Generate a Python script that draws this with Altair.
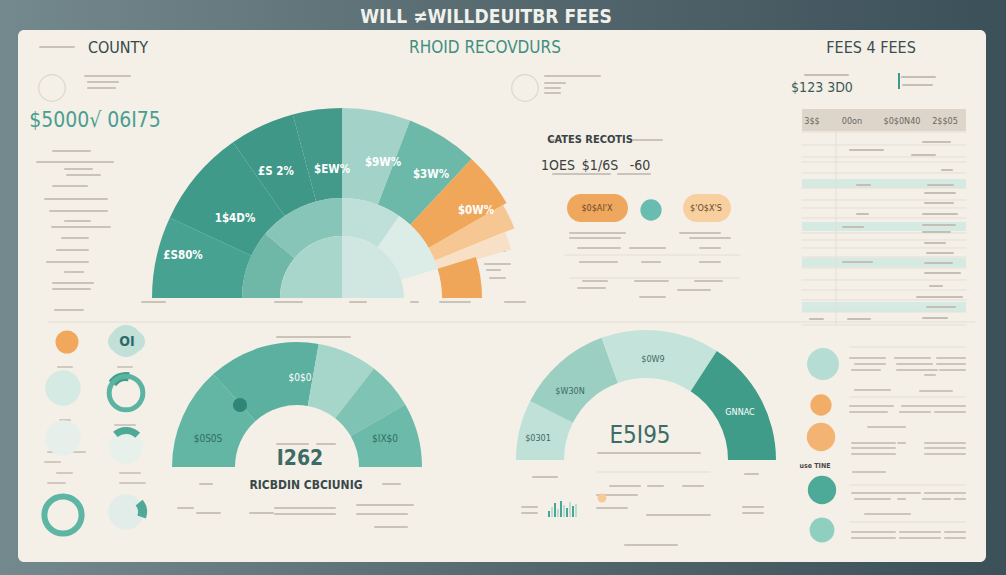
import math
import altair as alt
import pandas as pd

W, H = 1006, 575
FONT = "Liberation Sans Narrow, DejaVu Sans Condensed, Roboto, sans-serif"

# ---------------- data ----------------
# big half donut (angles in degrees from the left end, 0..180)
big_start = [0, 25, 55, 75, 90, 111, 133, 150, 158, 163, 0, 40, 90, 125, 0, 90]
big_end   = [25, 55, 75, 90, 111, 133, 150, 158, 164, 180, 40, 90, 125, 163, 90, 180]
big_inner = [100, 100, 100, 100, 100, 100, 100, 100, 100, 100, 62, 62, 62, 62, 0, 0]
big_outer = [190, 190, 190, 190, 190, 190, 190, 186, 176, 140, 100, 100, 100, 100, 62, 62]
big_color = ["#48a291", "#3f9a89", "#3e9787", "#43998a", "#a3d3c8", "#6db9a9", "#f0a75a",
             "#f6c693", "#f8e0c6", "#efa659", "#6fb8a8", "#86c5b7", "#bfe0d8", "#dcede7",
             "#a9d6cb", "#cfe7e0"]
big_labels = ["£S80%", "1$4D%", "£S 2%", "$EW%", "$9W%", "$3W%", "$0W%"]
big_label_x = [183, 235, 276, 332, 383, 431, 476]
big_label_y = [256, 219, 172, 170, 163, 175, 211]

# bottom-left gauge
bl_start = [0, 48, 100, 128, 150]
bl_end = [48, 100, 128, 150, 180]
bl_color = ["#63b5a4", "#5cb0a0", "#a6d5c9", "#7fc3b4", "#6cbaa9"]
bl_labels = ["$0S0S", "$0$0", "$IX$0"]
bl_label_x = [208, 300, 385]
bl_label_y = [439, 378, 439]

# bottom-right gauge
br_start = [0, 27, 70, 123]
br_end = [27, 70, 123, 180]
br_color = ["#bfe1d8", "#9bcfc2", "#c4e3da", "#3f9c89"]
br_labels = ["$0301", "$W30N", "$0W9", "GNNAC"]
br_label_x = [538, 570, 653, 740]
br_label_y = [438, 391, 359, 412]

# mini bar chart
mini_x = [548, 551, 554, 557, 560, 563, 566, 569, 572, 575]
mini_h = [6, 10, 14, 8, 16, 12, 9, 15, 11, 13]

# headings & big figures
title_text = "WILL ≠WILLDEUITBR FEES"
headings = ["COUNTY", "RHOID RECOVDURS", "FEES 4 FEES"]
heading_x = [118, 485, 871]
heading_c = ["#374848", "#3f8f80", "#3d4d4d"]

# illegible text lines (x1, x2, y)
left_x1 = [53, 37, 65, 67, 53, 45, 50, 65, 52, 62, 57, 47, 65, 53, 53, 55, 85, 88, 88, 40]
left_x2 = [90, 113, 92, 100, 87, 107, 107, 90, 110, 88, 88, 88, 83, 93, 90, 83, 130, 118, 115, 74]
left_y = [151, 162, 169, 175, 186, 199, 211, 221, 227, 238, 250, 262, 272, 283, 289, 310, 76, 82, 88, 47]

mid_x1 = [545, 545, 545, 545, 550, 633, 553, 618, 570, 570, 680, 690, 578, 630, 700,
          580, 642, 700, 583, 635, 695, 578, 640, 678, 142, 275, 350, 411, 440, 505,
          480, 485, 487, 490]
mid_x2 = [600, 565, 560, 560, 560, 662, 610, 650, 625, 620, 720, 730, 620, 665, 720,
          617, 660, 720, 607, 668, 722, 605, 665, 710, 165, 302, 366, 418, 470, 525,
          505, 510, 500, 505]
mid_y = [76, 83, 88, 93, 140, 140, 174, 174, 233, 238, 233, 238, 248, 248, 248,
         262, 262, 262, 281, 281, 281, 288, 297, 290, 302, 302, 302, 302, 302, 302,
         251, 264, 270, 278]

bot_x1 = [277, 200, 383, 277, 317, 178, 197, 250, 275, 275, 357, 357, 375,
          533, 610, 648, 683, 597, 597, 647, 625, 745, 743, 743, 522, 522, 598]
bot_x2 = [350, 212, 400, 308, 335, 193, 220, 273, 335, 335, 413, 407, 407,
          557, 640, 663, 703, 637, 627, 710, 677, 758, 763, 763, 537, 537, 700]
bot_y = [337, 484, 484, 444, 444, 508, 513, 513, 508, 514, 505, 514, 527,
         477, 486, 486, 486, 495, 508, 515, 545, 474, 507, 513, 507, 513, 453]

tab_x1 = [923, 850, 912, 942, 857, 928, 925, 925, 857, 923, 843, 923, 923, 925, 927,
          843, 925, 925, 930, 917, 927, 923, 848, 810, 805, 902, 903]
tab_x2 = [950, 883, 935, 952, 870, 953, 955, 953, 868, 957, 863, 955, 950, 945, 953,
          872, 952, 960, 942, 962, 955, 947, 870, 823, 848, 935, 932]
tab_y = [142, 150, 155, 170, 185, 185, 193, 203, 214, 214, 227, 225, 232, 243, 253,
         262, 263, 273, 286, 297, 307, 318, 319, 319, 75, 77, 85]

rb_x1 = [850, 895, 937, 855, 897, 937, 852, 897, 940, 925, 855, 920, 850, 902, 850, 900,
         935, 868, 852, 898, 925, 852, 925, 852, 925, 853, 852, 925, 855, 898, 923, 955,
         865, 852, 900, 945, 852, 900, 945]
rb_x2 = [885, 930, 965, 885, 932, 965, 880, 937, 965, 935, 890, 952, 893, 965, 887, 930,
         965, 905, 895, 905, 965, 895, 965, 895, 965, 885, 920, 965, 890, 905, 950, 965,
         910, 895, 940, 965, 895, 940, 965]
rb_y = [358, 358, 358, 364, 364, 364, 370, 370, 370, 375, 390, 391, 406, 406, 412, 412,
        412, 427, 443, 443, 443, 448, 448, 454, 454, 472, 493, 493, 499, 499, 499, 499,
        514, 532, 532, 532, 538, 538, 538]

circ_lb_x1 = [58, 118, 60, 115, 48, 45, 57, 48, 120, 120]
circ_lb_x2 = [72, 132, 70, 135, 85, 60, 72, 65, 140, 145]
circ_lb_y = [367, 367, 420, 425, 452, 462, 473, 483, 473, 483]

# faint full-width rules (x1, x2, y)
rule_x1 = [48, 565, 570, 850, 850, 850, 850, 597]
rule_x2 = [975, 740, 740, 965, 965, 965, 965, 710]
rule_y = [322, 255, 278, 347, 397, 485, 522, 472]

table_lines_y = [132, 145, 157, 162, 173, 188, 200, 208, 218, 233, 240, 248, 257, 268,
                 280, 290, 300, 312, 325]
table_band_y1 = [179, 222, 258, 302]
table_band_y2 = [188, 231, 267, 312]
table_head = ["3$$", "00on", "$0$0N40", "2$$05"]
table_head_x = [812, 852, 902, 945]

# filled circles (x, y, r, colour)
dot_x = [67, 126, 63, 63, 126, 126, 823, 821, 821, 822, 822, 651, 240, 602]
dot_y = [342, 341, 388, 438, 512, 447, 364, 405, 437, 490, 530, 210, 405, 498]
dot_r = [13, 18, 20, 20, 20, 19, 18, 12, 16, 16, 14, 12, 8, 5]
dot_c = ["#f2a85c", "#c1e0d8", "#d6eae4", "#e6efea", "#e2ece8", "#e8f0ec", "#b6ddd4",
         "#f2ae66", "#f3b372", "#4daa98", "#8fcfc0", "#68bdb0", "#2f8577", "#f5c998"]
# rings
ring_x = [126, 63, 52, 525]
ring_y = [393, 515, 88, 88]
ring_r = [19, 21, 15, 15]
ring_c = ["#5bb4a2", "#5db6a4", "#dcd6cc", "#dcd6cc"]
ring_w = [5, 6, 1.2, 1.2]

# ---------------- helpers ----------------
XS = alt.Scale(domain=[0, W], nice=False, zero=False)
YS = alt.Scale(domain=[0, H], reverse=True, nice=False, zero=False)
TH = alt.Scale(domain=[0, 180], range=[-math.pi / 2, math.pi / 2], nice=False, zero=False)


def X(f):
    return alt.X(f"{f}:Q", scale=XS, axis=None)


def Y(f):
    return alt.Y(f"{f}:Q", scale=YS, axis=None)


def arcs(cx, cy, a0, a1, r0, r1, col):
    df = pd.DataFrame({"cx": cx, "cy": cy, "a0": a0, "a1": a1, "r0": r0, "r1": r1, "c": col})
    return alt.Chart(df).mark_arc(strokeWidth=0).encode(
        x=X("cx"), y=Y("cy"),
        theta=alt.Theta("a0:Q", scale=TH, stack=False),
        theta2="a1:Q",
        radius=alt.Radius("r1:Q", scale=None),
        radius2="r0:Q",
        color=alt.Color("c:N", scale=None),
    )


def lines(x1, x2, y, color, width=2.2, opacity=1.0):
    df = pd.DataFrame({"x1": x1, "x2": x2, "y": y})
    return alt.Chart(df).mark_rule(color=color, strokeWidth=width, strokeCap="round",
                                   opacity=opacity).encode(
        x=X("x1"), x2=alt.X2("x2:Q"), y=Y("y"))


def texts(t, x, y, size, color, weight="normal", align="center", font=FONT):
    df = pd.DataFrame({"t": t, "x": x, "y": y})
    return alt.Chart(df).mark_text(fontSize=size, color=color, fontWeight=weight,
                                   align=align, baseline="middle", font=font).encode(
        x=X("x"), y=Y("y"), text="t:N")


def rects(x1, x2, y1, y2, color, radius=0, opacity=1.0):
    df = pd.DataFrame({"x1": x1, "x2": x2, "y1": y1, "y2": y2, "c": color})
    return alt.Chart(df).mark_rect(cornerRadius=radius, opacity=opacity).encode(
        x=X("x1"), x2=alt.X2("x2:Q"), y=Y("y1"), y2=alt.Y2("y2:Q"),
        color=alt.Color("c:N", scale=None))


# ---------------- layers ----------------
bg = alt.Chart(pd.DataFrame({"x1": [0], "x2": [W], "y1": [0], "y2": [H]})).mark_rect(
    color=alt.Gradient(gradient="linear",
                       stops=[alt.GradientStop(color="#74898d", offset=0),
                              alt.GradientStop(color="#56696f", offset=0.5),
                              alt.GradientStop(color="#3c505a", offset=1)],
                       x1=0, x2=1, y1=0, y2=0)
).encode(x=X("x1"), x2=alt.X2("x2:Q"), y=Y("y1"), y2=alt.Y2("y2:Q"))

panel = rects([18], [986], [30], [562], ["#f4f0e8"], radius=6)

table_band = rects([802] * 5, [966] * 5, [109] + table_band_y1, [131] + table_band_y2,
                   ["#ddd5ca", "#d5eae3", "#d5eae3", "#d5eae3", "#d5eae3"])
table_lines = lines([802] * len(table_lines_y), [966] * len(table_lines_y), table_lines_y,
                    "#e3ded5", width=1)
table_vline = alt.Chart(pd.DataFrame({"x": [836], "y1": [131], "y2": [325]})).mark_rule(
    color="#e3ded5", strokeWidth=1).encode(x=X("x"), y=Y("y1"), y2=alt.Y2("y2:Q"))

big = arcs([342] * len(big_start), [298] * len(big_start), big_start, big_end,
           big_inner, big_outer, big_color)
bl = arcs([297] * 5, [467] * 5, bl_start, bl_end, [62] * 5, [125] * 5, bl_color)
br = arcs([646] * 4, [460] * 4, br_start, br_end, [82] * 4, [130] * 4, br_color)
small_arcs = arcs([126, 126, 128], [393, 447, 512], [35, 50, 140], [100, 135, 200],
                  [12, 13, 10], [21, 20, 19], ["#3f9c89", "#4fa997", "#4fa997"])

dots_df = pd.DataFrame({"x": dot_x, "y": dot_y,
                        "s": [math.pi * r * r for r in dot_r], "c": dot_c})
dots = alt.Chart(dots_df).mark_circle(opacity=1).encode(
    x=X("x"), y=Y("y"), size=alt.Size("s:Q", scale=None), color=alt.Color("c:N", scale=None))

rings_df = pd.DataFrame({"x": ring_x, "y": ring_y,
                         "s": [math.pi * r * r for r in ring_r], "c": ring_c, "w": ring_w})
rings = alt.Chart(rings_df).mark_point(shape="circle", filled=False, opacity=1).encode(
    x=X("x"), y=Y("y"), size=alt.Size("s:Q", scale=None),
    stroke=alt.Color("c:N", scale=None), strokeWidth=alt.StrokeWidth("w:Q", scale=None))

blobs = rects([567, 683, 108], [628, 731, 145], [194, 194, 331], [222, 222, 352],
              ["#efa65d", "#f8cf9f", "#c1e0d8"], radius=14)

mini_df = pd.DataFrame({"x": mini_x, "x2": [v + 2 for v in mini_x],
                        "top": [517 - h for h in mini_h], "base": [517] * len(mini_x),
                        "c": ["#4aa594", "#b9ddd3"] * 5})
mini = alt.Chart(mini_df).mark_rect().encode(
    x=X("x"), x2=alt.X2("x2:Q"), y=Y("top"), y2=alt.Y2("base:Q"),
    color=alt.Color("c:N", scale=None))

icon = alt.Chart(pd.DataFrame({"x": [899], "y1": [73], "y2": [89]})).mark_rule(
    color="#3e9a88", strokeWidth=2).encode(x=X("x"), y=Y("y1"), y2=alt.Y2("y2:Q"))

scribbles = [
    lines(left_x1, left_x2, left_y, "#c9c3b9", 2),
    lines(mid_x1, mid_x2, mid_y, "#c9c3b9", 2),
    lines(bot_x1, bot_x2, bot_y, "#c9c3b9", 2),
    lines(tab_x1, tab_x2, tab_y, "#c4beb4", 2),
    lines(rb_x1, rb_x2, rb_y, "#cbc5bb", 2),
    lines(circ_lb_x1, circ_lb_x2, circ_lb_y, "#cfc9bf", 2),
    lines(rule_x1, rule_x2, rule_y, "#e2ddd4", 1),
]

txt = [
    texts([title_text], [486], [17], 19, "#f1f1ec", "bold"),
    texts(headings[:1], heading_x[:1], [48], 16, heading_c[0]),
    texts(headings[1:2], heading_x[1:2], [48], 17, heading_c[1]),
    texts(headings[2:], heading_x[2:], [48], 16, heading_c[2]),
    texts(["$5000√ 06I75"], [95], [121], 21, "#4a9e8f"),
    texts(["$123 3D0"], [822], [88], 14, "#3d5a58"),
    texts(big_labels, big_label_x, big_label_y, 11.5, "#ffffff", "bold"),
    texts(bl_labels[:1] + bl_labels[2:], [bl_label_x[0], bl_label_x[2]],
          [bl_label_y[0], bl_label_y[2]], 10, "#2e6f64"),
    texts(bl_labels[1:2], bl_label_x[1:2], bl_label_y[1:2], 10, "#ffffff"),
    texts(["I262"], [300], [459], 21, "#3d6b66", "bold"),
    texts(["RICBDIN CBCIUNIG"], [306], [485], 12, "#3a4848", "bold"),
    texts(br_labels[:3], br_label_x[:3], br_label_y[:3], 9, "#3d6b66"),
    texts(br_labels[3:], br_label_x[3:], br_label_y[3:], 9, "#ffffff"),
    texts(["E5I95"], [640], [436], 24, "#3d6b66"),
    texts(["CATES RECOTIS"], [590], [140], 11, "#3a4444", "bold"),
    texts(["1OES", "$1/6S", "-60"], [558, 600, 640], [166, 166, 166], 14, "#3a4040"),
    texts(["$0$AI'X", "$'O$X'S"], [597, 706], [208, 208], 9, "#6a4a2a"),
    texts(table_head, table_head_x, [121] * 4, 9, "#6a6660"),
    texts(["OI"], [127], [342], 14, "#2d6b66", "bold"),
    texts(["use TINE"], [815], [466], 7, "#4a4a44", "bold"),
]

chart = alt.layer(
    bg, panel, table_band, table_lines, table_vline, *scribbles,
    big, bl, br, dots, small_arcs, rings, blobs, mini, icon, *txt
).properties(width=W, height=H, padding=0, autosize=alt.AutoSizeParams(type="none")
).configure_view(stroke=None)

chart.save("out.html", embed_options={"renderer": "svg", "actions": False})
